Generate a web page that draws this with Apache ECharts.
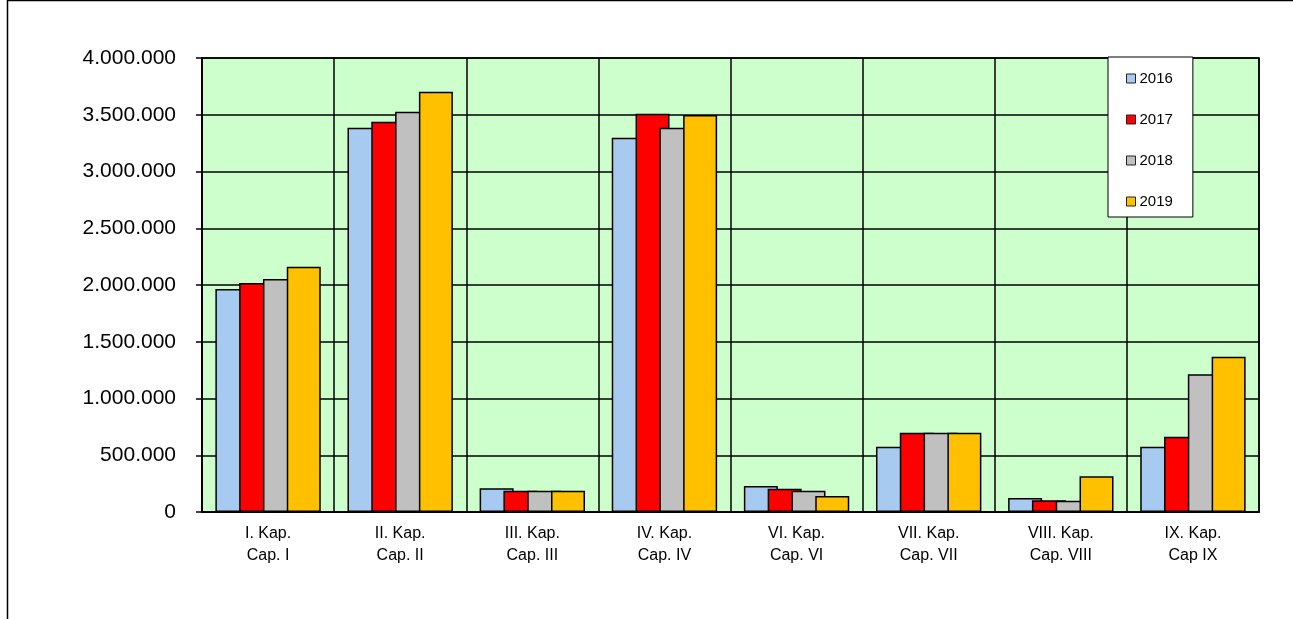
<!DOCTYPE html>
<html style="height: 100%">
<head>
    <title>Kap chart</title>
    <meta charset="utf-8">
    <style>
    body { margin: 0; background: #fff; }
    #container { width: 1293px; height: 619px; }
    </style>
</head>
<body>
    <div id="container"></div>
    <script type="text/javascript" src="https://cdn.jsdelivr.net/npm/echarts@6/dist/echarts.min.js"></script>
    <script type="text/javascript">
    // categories (two-line labels)
    var categories = [
        'I. Kap.\nCap. I',
        'II. Kap.\nCap. II',
        'III. Kap.\nCap. III',
        'IV. Kap.\nCap. IV',
        'VI. Kap.\nCap. VI',
        'VII. Kap.\nCap. VII',
        'VIII. Kap.\nCap. VIII',
        'IX. Kap.\nCap IX'
    ];
    var years = ['2016', '2017', '2018', '2019'];
    var colors = ['#a6caf0', '#ff0000', '#c0c0c0', '#ffc000'];

    var v2016 = [1965000, 3386000, 209000, 3298000, 229000, 575000, 123000, 575000];
    var v2017 = [2018000, 3439000, 188000, 3509000, 205000, 699000, 103000, 664000];
    var v2018 = [2053000, 3527000, 188000, 3386000, 188000, 699000, 100000, 1213000];
    var v2019 = [2161000, 3703000, 188000, 3498000, 141000, 699000, 314000, 1368000];
    var values = [v2016, v2017, v2018, v2019];

    function fmt(v) {
        // thousands separator with dots
        return String(v).replace(/\B(?=(\d{3})+(?!\d))/g, '.');
    }

    var dom = document.getElementById('container');
    var myChart = echarts.init(dom);

    var series = [];
    for (var i = 0; i < years.length; i++) {
        series.push({
            name: years[i],
            type: 'bar',
            data: values[i],
            barWidth: 34,
            barGap: '-30%',
            itemStyle: {
                color: colors[i],
                borderColor: '#000',
                borderWidth: 1.5
            }
        });
    }

    var option = {
        animation: false,
        textStyle: { fontFamily: 'Liberation Sans, Arial, sans-serif' },
        graphic: [{
            type: 'rect',
            shape: { x: 7.5, y: 0.5, width: 1400, height: 700 },
            style: { fill: 'none', stroke: '#000', lineWidth: 1.5 },
            silent: true
        }],
        grid: {
            left: 202,
            right: 34,
            top: 58,
            bottom: 107,
            show: true,
            backgroundColor: '#ccffcc',
            borderColor: '#000',
            borderWidth: 1.5
        },
        legend: {
            orient: 'vertical',
            left: 1108,
            top: 57,
            padding: [14, 20, 8, 18],
            backgroundColor: '#fff',
            borderColor: '#000',
            borderWidth: 1,
            itemWidth: 9,
            itemHeight: 9,
            itemGap: 26,
            icon: 'rect',
            itemStyle: { borderColor: '#222', borderWidth: 1 },
            textStyle: { fontSize: 15, color: '#000', lineHeight: 15, padding: [0, 0, 0, -1] },
            data: years
        },
        xAxis: {
            type: 'category',
            data: categories,
            axisLine: { lineStyle: { color: '#000', width: 2 } },
            axisTick: { show: false },
            splitLine: { show: true, lineStyle: { color: '#000', width: 1.5 } },
            axisLabel: {
                color: '#000',
                fontSize: 16,
                lineHeight: 22,
                margin: 11,
                interval: 0
            }
        },
        yAxis: {
            type: 'value',
            min: 0,
            max: 4000000,
            interval: 500000,
            axisLine: { show: true, lineStyle: { color: '#000', width: 2 } },
            axisTick: { show: true, length: 6, lineStyle: { color: '#000', width: 1.5 } },
            splitLine: { show: true, lineStyle: { color: '#000', width: 1.5 } },
            axisLabel: {
                color: '#000',
                fontSize: 21,
                margin: 26,
                formatter: fmt
            }
        },
        series: series
    };

    myChart.setOption(option);
    </script>
</body>
</html>
